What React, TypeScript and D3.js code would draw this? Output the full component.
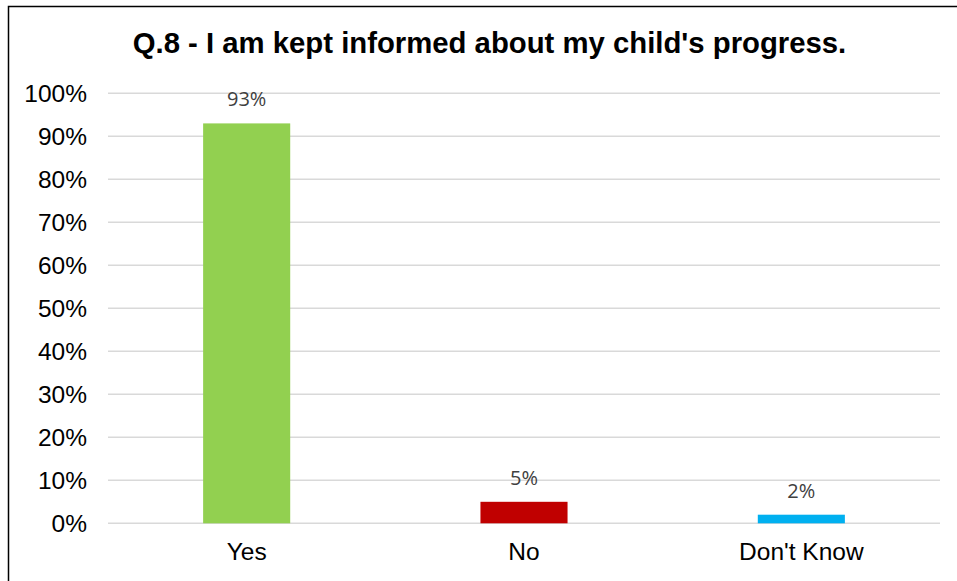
import React from "react";
import * as d3 from "d3";

const categories = ["Yes", "No", "Don't Know"];
const values = [0.93, 0.05, 0.02];
const barColors = ["#92d050", "#c00000", "#00b0f0"];
const yTicks = [0, 0.1, 0.2, 0.3, 0.4, 0.5, 0.6, 0.7, 0.8, 0.9, 1.0];
const title = "Q.8 - I am kept informed about my child's progress.";

export default function App() {
  const W = 957;
  const H = 581;
  const plotLeft = 108;
  const plotRight = 940;
  const plotTop = 93.3;
  const plotBottom = 523.3;

  const x = d3.scaleBand<string>().domain(categories).range([plotLeft, plotRight]).paddingInner(0).paddingOuter(0);
  const y = d3.scaleLinear().domain([0, 1]).range([plotBottom, plotTop]);
  const barW = x.bandwidth() * 0.314;
  const fmt = d3.format(".0%");

  return (
    <svg
      width={W}
      height={H}
      style={{ position: "absolute", left: 0, top: 0, background: "#fff" }}
    >
      <rect x={0} y={0} width={W} height={H} fill="#fff" />
      <rect x={8.5} y={6.5} width={W + 20} height={H + 20} fill="none" stroke="#000" strokeWidth={1.5} />
      <text
        x={489.5}
        y={53}
        textAnchor="middle"
        fontFamily="'Liberation Sans', Arial, sans-serif"
        fontWeight="bold"
        fontSize={29.3}
        fill="#000"
      >
        {title}
      </text>
      {yTicks.map((t) => (
        <g key={t}>
          <line x1={plotLeft} x2={plotRight} y1={y(t)} y2={y(t)} stroke="#d9d9d9" strokeWidth={1.5} />
          <text
            x={87}
            y={y(t)}
            dy="0.36em"
            textAnchor="end"
            fontFamily="'Liberation Sans', Arial, sans-serif"
            fontSize={24.5}
            fill="#000"
          >
            {fmt(t)}
          </text>
        </g>
      ))}
      {categories.map((c, i) => {
        const cx = (x(c) as number) + x.bandwidth() / 2;
        return (
          <g key={c}>
            <rect
              x={cx - barW / 2}
              y={y(values[i])}
              width={barW}
              height={plotBottom - y(values[i])}
              fill={barColors[i]}
            />
            <text
              x={cx}
              y={y(values[i]) - 17}
              textAnchor="middle"
              fontFamily="'Open Sans', sans-serif"
              fontSize={20}
              fill="#404040"
            >
              {fmt(values[i])}
            </text>
            <text
              x={cx}
              y={560}
              textAnchor="middle"
              fontFamily="'Liberation Sans', Arial, sans-serif"
              fontSize={24.5}
              fill="#000"
            >
              {c}
            </text>
          </g>
        );
      })}
    </svg>
  );
}
